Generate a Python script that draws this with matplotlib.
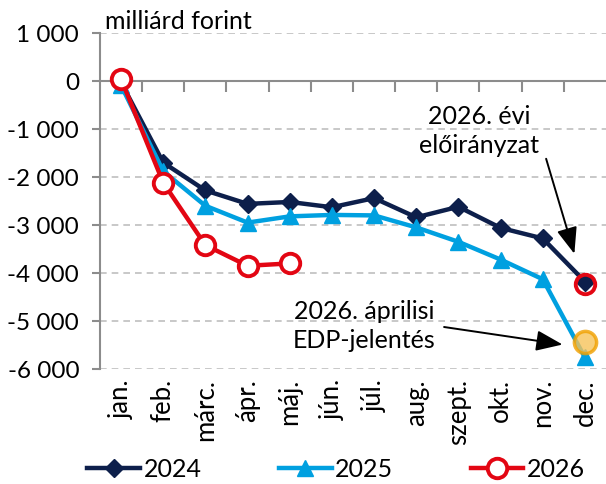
import matplotlib.pyplot as plt
import matplotlib.transforms as mtransforms

months = ['jan.', 'feb.', 'márc.', 'ápr.', 'máj.', 'jún.', 'júl.', 'aug.',
          'szept.', 'okt.', 'nov.', 'dec.']
y2024 = [-30, -1700, -2280, -2560, -2520, -2630, -2440, -2840, -2620, -3060, -3280, -4180]
y2025 = [-90, -1880, -2600, -2950, -2820, -2790, -2800, -3050, -3350, -3720, -4130, -5760]
y2026 = [40, -2120, -3420, -3850, -3800]
plan_2026 = -4220
edp_2026 = -5440
yticks = [1000, 0, -1000, -2000, -3000, -4000, -5000, -6000]
ytick_labels = ['1 000', '0', '-1 000', '-2 000', '-3 000', '-4 000', '-5 000', '-6 000']

plt.rcParams['font.family'] = ['Lato', 'DejaVu Sans']
navy = '#0d1f4b'
cyan = '#00a0e0'
red = '#e30613'
gray = '#8c8c8c'
fs = 17.5

fig = plt.figure(figsize=(6.06, 4.84), dpi=100)
ax = fig.add_axes([0.165, 0.2376, 0.835, 0.6942])

x = list(range(len(months)))
ax.plot(x, y2024, color=navy, lw=3.2, marker='D', ms=9, label='2024', zorder=3)
ax.plot(x, y2025, color=cyan, lw=3.2, marker='^', ms=12, label='2025', zorder=4)
ax.plot(x[:len(y2026)], y2026, color=red, lw=3.2, marker='o', ms=14,
        mfc='white', mec=red, mew=2.8, label='2026', zorder=5)
ax.plot([11], [plan_2026], ls='none', marker='o', ms=14, mfc='none', mec=red, mew=2.8, zorder=6)
ax.plot([11], [edp_2026], ls='none', marker='o', ms=16, mfc='#f7c35a', alpha=0.8,
        mec='#f0a000', mew=2.5, zorder=6)

ax.set_xlim(-0.5, 11.5)
ax.set_ylim(-6000, 1000)
ax.set_yticks(yticks)
ax.set_yticklabels(ytick_labels, fontsize=fs)
for v in yticks:
    if v != 0:
        ax.axhline(v, color='#bfbfbf', lw=1.2, ls=(0, (4, 3)), zorder=0)

for s in ['top', 'right']:
    ax.spines[s].set_visible(False)
ax.spines['left'].set_color(gray)
ax.spines['left'].set_linewidth(1.5)
ax.spines['bottom'].set_position(('data', 0))
ax.spines['bottom'].set_color(gray)
ax.spines['bottom'].set_linewidth(1.5)
ax.tick_params(axis='y', direction='out', length=6, color=gray, width=1.5, pad=9)
ax.set_xticks([i + 0.5 for i in range(len(months) - 1)])
ax.set_xticklabels([])
ax.tick_params(axis='x', direction='out', length=8, color=gray, width=1.5)

trans = mtransforms.blended_transform_factory(ax.transData, ax.transAxes)
for i, m in enumerate(months):
    ax.text(i, -0.03, m, rotation=90, ha='center', va='top', fontsize=18.5, transform=trans)

fig.text(0.174, 0.956, 'milliárd forint', fontsize=18, ha='left', va='center')

arrow = dict(arrowstyle='-|>,head_length=0.9,head_width=0.35', color='black', lw=1.4,
             mutation_scale=18, shrinkA=0, shrinkB=0)
ax.annotate('', xy=(10.75, -3600), xytext=(10.08, -1620), arrowprops=arrow)
ax.text(8.49, -1050, '2026. évi\nelőirányzat', ha='center', va='center', fontsize=18, linespacing=1.32)
ax.annotate('', xy=(10.47, -5490), xytext=(7.66, -5125), arrowprops=arrow)
ax.text(5.76, -5100, '2026. áprilisi\nEDP-jelentés', ha='center', va='center', fontsize=18, linespacing=1.32)

fig.legend(loc='center', bbox_to_anchor=(0.555, 0.03), ncol=3, frameon=False,
           fontsize=18, handlelength=2.1, columnspacing=3.1, handletextpad=0.15)

fig.savefig('out.png', dpi=100)
